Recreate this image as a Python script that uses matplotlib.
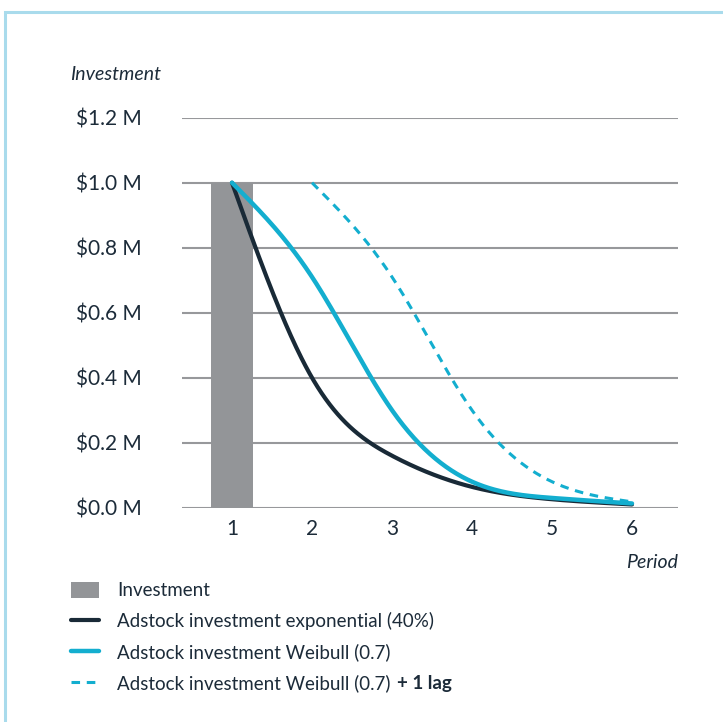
import numpy as np
import matplotlib
matplotlib.use("Agg")
import matplotlib.pyplot as plt
from matplotlib.patches import Rectangle

# Data
periods = [1, 2, 3, 4, 5, 6]
investment = [1.0, 0.0, 0.0, 0.0, 0.0, 0.0]
adstock_exponential = [1.0, 0.40, 0.16, 0.064, 0.026, 0.010]
adstock_weibull = [1.0, 0.71, 0.30, 0.08, 0.03, 0.013]
lag_periods = [2, 3, 4, 5, 6]
adstock_weibull_lag = [1.0, 0.71, 0.30, 0.08, 0.018]
y_ticks = [0.0, 0.2, 0.4, 0.6, 0.8, 1.0, 1.2]
y_tick_labels = ["$0.0 M", "$0.2 M", "$0.4 M", "$0.6 M", "$0.8 M", "$1.0 M", "$1.2 M"]

TEXT = "#1c2b39"
GRID = "#97989b"
BAR = "#939598"
NAVY = "#192a37"
CYAN = "#13aecf"
FONT = "Lato"


def natural_spline(x, y, n=300):
    """Smooth curve through the points (natural cubic spline)."""
    x = np.asarray(x, float)
    y = np.asarray(y, float)
    k = len(x)
    h = np.diff(x)
    A = np.zeros((k, k))
    b = np.zeros(k)
    A[0, 0] = A[-1, -1] = 1.0
    for i in range(1, k - 1):
        A[i, i - 1] = h[i - 1]
        A[i, i] = 2 * (h[i - 1] + h[i])
        A[i, i + 1] = h[i]
        b[i] = 6 * ((y[i + 1] - y[i]) / h[i] - (y[i] - y[i - 1]) / h[i - 1])
    M = np.linalg.solve(A, b)
    xs = np.linspace(x[0], x[-1], n)
    idx = np.clip(np.searchsorted(x, xs) - 1, 0, k - 2)
    x0, x1 = x[idx], x[idx + 1]
    hh = x1 - x0
    a = (x1 - xs) / hh
    c = (xs - x0) / hh
    ys = (a * y[idx] + c * y[idx + 1]
          + ((a ** 3 - a) * M[idx] + (c ** 3 - c) * M[idx + 1]) * hh ** 2 / 6)
    return xs, ys


W, H, DPI = 723, 722, 100
fig = plt.figure(figsize=(W / DPI, H / DPI), dpi=DPI)
fig.patch.set_facecolor("white")

# light blue frame
fig.patches.append(Rectangle((5 / W, -0.1), 1.2, (H - 12) / H + 0.1,
                             transform=fig.transFigure, fill=False,
                             edgecolor="#a9dbec", linewidth=2.2, zorder=0))

left, right = 182 / W, 678 / W
bottom, top = 1 - 507.7 / H, 1 - 117.7 / H
ax = fig.add_axes([left, bottom, right - left, top - bottom])
ax.set_xlim(0.375, 6.575)
ax.set_ylim(0, 1.2)

for s in ax.spines.values():
    s.set_visible(False)
ax.set_yticks(y_ticks)
ax.set_yticklabels(y_tick_labels)
ax.set_xticks(periods)
ax.tick_params(length=0, labelsize=15, colors=TEXT, pad=0)
ax.tick_params(axis="y", pad=29)
ax.tick_params(axis="x", pad=8)
for lab in ax.get_xticklabels() + ax.get_yticklabels():
    lab.set_fontfamily(FONT)
ax.grid(axis="y", color=GRID, linewidth=1.5, zorder=0)
ax.set_axisbelow(True)

bars = ax.bar(periods, investment, width=0.52, color=BAR, zorder=2,
              label="Investment")

xs, ys = natural_spline(periods, adstock_exponential)
l1, = ax.plot(xs, ys, color=NAVY, linewidth=3.0, solid_capstyle="round",
              zorder=3, label="Adstock investment exponential (40%)")
xs, ys = natural_spline(periods, adstock_weibull)
l2, = ax.plot(xs, ys, color=CYAN, linewidth=3.2, solid_capstyle="round",
              zorder=4, label="Adstock investment Weibull (0.7)")
xs, ys = natural_spline(lag_periods, adstock_weibull_lag)
l3, = ax.plot(xs, ys, color=CYAN, linewidth=2.2, linestyle=(0, (2.8, 2.2)),
              zorder=4, label="Adstock investment Weibull (0.7)")

fig.text(70 / W, 1 - 75 / H, "Investment", fontsize=14, style="italic",
         color=TEXT, family=FONT, ha="left", va="center")
fig.text(678 / W, 1 - 562 / H, "Period", fontsize=14, style="italic",
         color=TEXT, family=FONT, ha="right", va="center")

fs = 13.5
leg = fig.legend(handles=[bars, l1, l2, l3],
                 labels=[h.get_label() for h in [bars, l1, l2, l3]],
                 loc="upper left", bbox_to_anchor=(63 / W, 1 - 574 / H),
                 frameon=False, prop={"family": FONT, "size": fs},
                 handlelength=1.5, handleheight=1.0, handletextpad=1.0,
                 labelspacing=0.69, borderaxespad=0, borderpad=0.4)
for t in leg.get_texts():
    t.set_color(TEXT)

fig.canvas.draw()
last = leg.get_texts()[-1]
bb = last.get_window_extent()
fig.text((bb.x1 + 6) / W, (bb.y0 + bb.y1) / 2 / H, "+ 1 lag", fontsize=fs,
         weight="bold", family=FONT, color=TEXT, ha="left", va="center")

fig.savefig("out.png", dpi=DPI, facecolor="white")
